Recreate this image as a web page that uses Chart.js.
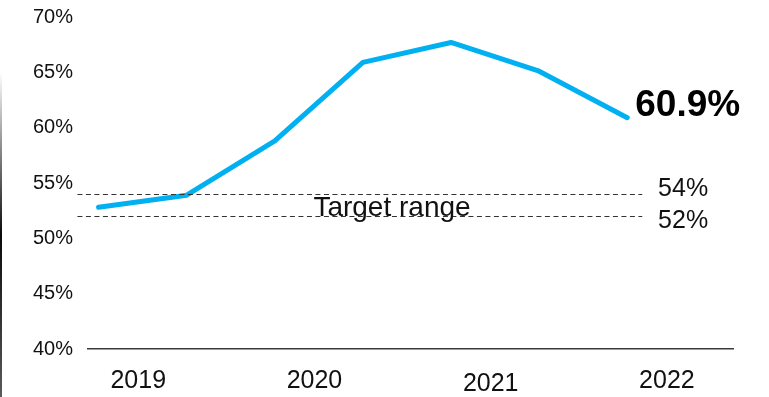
<!DOCTYPE html>
<html>
<head>
<meta charset="utf-8">
<script src="https://cdn.jsdelivr.net/npm/chart.js@4/dist/chart.umd.min.js"></script>
<style>
  html, body { margin: 0; padding: 0; background: #ffffff; }
  #wrap { width: 769px; height: 397px; position: relative; }
</style>
</head>
<body>
<div id="wrap"><canvas id="chart" width="769" height="397"></canvas></div>
<script>
// Half-year observations, 2019 H1 through 2022 H1
const periods = [0, 1, 2, 3, 4, 5, 6];
const ratio = [52.8, 53.9, 58.8, 65.9, 67.7, 65.1, 60.9];
const yearLabels = ['2019', '2020', '2021', '2022'];
const targetRange = [54, 52];
const yTicks = [40, 45, 50, 55, 60, 65, 70];

const FONT = '"Liberation Sans", Arial, Helvetica, sans-serif';
const LINE_BLUE = '#00B0F0';

// Year captions, dashed target band, end-value callout and left edge rule
const overlay = {
  id: 'overlay',
  afterDatasetsDraw(chart) {
    const ctx = chart.ctx;
    const xs = chart.scales.x;
    const ys = chart.scales.y;
    ctx.save();

    // thin shaded rule along the left edge
    const g = ctx.createLinearGradient(0, 72, 0, 397);
    g.addColorStop(0, 'rgba(255,255,255,1)');
    g.addColorStop(0.5, 'rgba(10,10,10,1)');
    g.addColorStop(1, 'rgba(90,90,90,1)');
    ctx.fillStyle = g;
    ctx.fillRect(0, 72, 2, 325);

    // target band dashed lines
    ctx.strokeStyle = '#333333';
    ctx.lineWidth = 1;
    ctx.setLineDash([5, 3.5]);
    const xa = xs.getPixelForValue(-0.24);
    const xb = xs.getPixelForValue(6.17);
    targetRange.forEach(v => {
      const y = Math.round(ys.getPixelForValue(v)) + 0.5;
      ctx.beginPath();
      ctx.moveTo(xa, y);
      ctx.lineTo(xb, y);
      ctx.stroke();
    });
    ctx.setLineDash([]);

    ctx.fillStyle = '#111111';
    ctx.textAlign = 'left';
    ctx.textBaseline = 'middle';
    ctx.font = '25px ' + FONT;
    const labelX = xs.getPixelForValue(6.35);
    ctx.fillText(targetRange[0] + '%', labelX, ys.getPixelForValue(targetRange[0]) - 5);
    ctx.fillText(targetRange[1] + '%', labelX, ys.getPixelForValue(targetRange[1]) + 5);

    ctx.font = '28px ' + FONT;
    ctx.textAlign = 'center';
    ctx.textBaseline = 'alphabetic';
    const mid = (targetRange[0] + targetRange[1]) / 2;
    ctx.fillText('Target range', xs.getPixelForValue(3.33), ys.getPixelForValue(mid) + 10.5);

    // callout for the latest value
    const last = ratio.length - 1;
    const px = xs.getPixelForValue(periods[last]);
    const py = ys.getPixelForValue(ratio[last]);
    ctx.font = 'bold 37px ' + FONT;
    ctx.textAlign = 'left';
    ctx.fillStyle = '#000000';
    ctx.fillText(ratio[last].toFixed(1) + '%', px + 8, py - 2);

    // year captions centred on each pair of half-years
    ctx.font = '25px ' + FONT;
    ctx.textAlign = 'center';
    ctx.textBaseline = 'middle';
    ctx.fillStyle = '#111111';
    yearLabels.forEach((lab, i) => {
      const x = xs.getPixelForValue(2 * i + 0.45);
      const y = 381 + (i === 2 ? 3 : 0);
      ctx.fillText(lab, x, y);
    });

    ctx.restore();
  }
};

new Chart(document.getElementById('chart'), {
  type: 'line',
  data: {
    datasets: [{
      data: periods.map((p, i) => ({ x: p, y: ratio[i] })),
      borderColor: LINE_BLUE,
      backgroundColor: LINE_BLUE,
      borderWidth: 5,
      borderCapStyle: 'round',
      borderJoinStyle: 'round',
      pointRadius: 0,
      pointHoverRadius: 0,
      tension: 0,
      fill: false,
      clip: false
    }]
  },
  options: {
    responsive: false,
    devicePixelRatio: 1,
    animation: false,
    events: [],
    layout: { padding: { left: 0, top: 17, right: 36, bottom: 0 } },
    plugins: {
      legend: { display: false },
      tooltip: { enabled: false },
      title: { display: false }
    },
    scales: {
      x: {
        type: 'linear',
        min: -0.12,
        max: 7.2,
        grid: { display: false, drawTicks: false },
        border: { display: true, color: '#3a3a3a', width: 1.5 },
        ticks: { display: false },
        afterFit(scale) {
          scale.height = 48;
          scale.paddingLeft = 0;
          scale.paddingRight = 0;
        }
      },
      y: {
        min: 40,
        max: 70,
        afterBuildTicks(scale) { scale.ticks = yTicks.map(v => ({ value: v })); },
        grid: { display: false, drawTicks: false },
        border: { display: false },
        ticks: {
          padding: 15,
          color: '#111111',
          font: { family: FONT, size: 20 },
          callback: v => v + '%'
        },
        afterFit(scale) {
          scale.width = 88;
          scale.paddingTop = 0;
          scale.paddingBottom = 0;
        }
      }
    }
  },
  plugins: [overlay]
});
</script>
</body>
</html>
